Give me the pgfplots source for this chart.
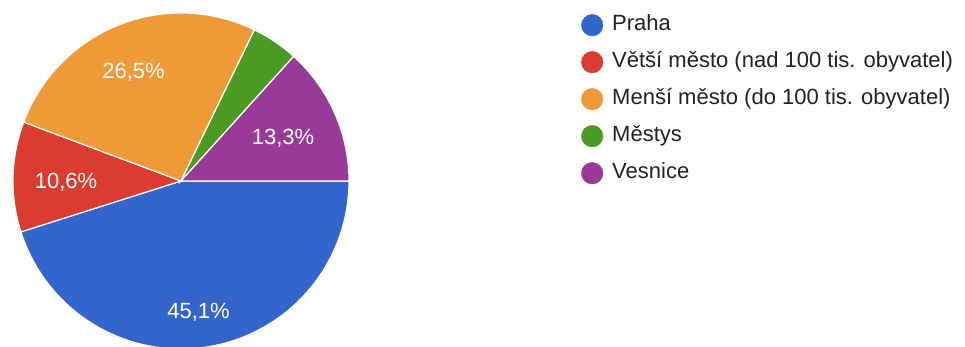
\documentclass[border=0pt]{standalone}
\usepackage{pgfplots}
\pgfplotsset{compat=1.18}
\usepackage{fontspec}
\setmainfont{Liberation Sans}
\definecolor{cPraha}{HTML}{3366CC}
\definecolor{cVetsi}{HTML}{DC3B2F}
\definecolor{cMensi}{HTML}{F09A37}
\definecolor{cMestys}{HTML}{4B9A22}
\definecolor{cVesnice}{HTML}{993A99}
\definecolor{txt}{HTML}{222222}
% shares in percent
\def\vPraha{45.1}
\def\vVetsi{10.6}
\def\vMensi{26.5}
\def\vMestys{4.5}
\def\vVesnice{13.3}
% cumulative angles (clockwise from 3 o'clock)
\pgfmathsetmacro\aA{0}
\pgfmathsetmacro\aB{\aA-3.6*\vPraha}
\pgfmathsetmacro\aC{\aB-3.6*\vVetsi}
\pgfmathsetmacro\aD{\aC-3.6*\vMensi}
\pgfmathsetmacro\aE{\aD-3.6*\vMestys}
\pgfmathsetmacro\aF{\aE-3.6*\vVesnice}
\def\cx{181}
\def\cy{-181}
\def\rr{168}
\begin{document}
\begin{tikzpicture}
\begin{axis}[
  x=1pt, y=1pt,
  xmin=0, xmax=965, ymin=-347, ymax=0,
  hide axis, clip=true,
  legend style={draw=none, fill=none, at={(axis cs:578,-12)}, anchor=north west,
    font=\fontsize{22}{26}\selectfont\color{txt},
    nodes={inner sep=0pt, text height=16pt, text depth=5pt},
    row sep=15pt, column sep=9pt},
  legend cell align=left,
]
\addplot[fill=cPraha, draw=white, line width=1.2pt, domain=\aB:\aA, samples=90, variable=\t, forget plot]
  ({\cx+\rr*cos(\t)}, {\cy+\rr*sin(\t)}) -- (axis cs:\cx,\cy) -- cycle;
\addplot[fill=cVetsi, draw=white, line width=1.2pt, domain=\aC:\aB, samples=40, variable=\t, forget plot]
  ({\cx+\rr*cos(\t)}, {\cy+\rr*sin(\t)}) -- (axis cs:\cx,\cy) -- cycle;
\addplot[fill=cMensi, draw=white, line width=1.2pt, domain=\aD:\aC, samples=60, variable=\t, forget plot]
  ({\cx+\rr*cos(\t)}, {\cy+\rr*sin(\t)}) -- (axis cs:\cx,\cy) -- cycle;
\addplot[fill=cMestys, draw=white, line width=1.2pt, domain=\aE:\aD, samples=20, variable=\t, forget plot]
  ({\cx+\rr*cos(\t)}, {\cy+\rr*sin(\t)}) -- (axis cs:\cx,\cy) -- cycle;
\addplot[fill=cVesnice, draw=white, line width=1.2pt, domain=\aF:\aE, samples=40, variable=\t, forget plot]
  ({\cx+\rr*cos(\t)}, {\cy+\rr*sin(\t)}) -- (axis cs:\cx,\cy) -- cycle;
\begin{scope}[every node/.style={text=white, font=\fontsize{22}{26}\selectfont, inner sep=0pt}]
\node at (axis cs:198.5,-312) {45,1\%};
\node at (axis cs:66,-182) {10,6\%};
\node at (axis cs:133.5,-72) {26,5\%};
\node at (axis cs:283,-138) {13,3\%};
\end{scope}
\addlegendimage{legend image code/.code={\fill[cPraha] (0pt,0pt) circle (10.8pt);}}
\addlegendentry{Praha}
\addlegendimage{legend image code/.code={\fill[cVetsi] (0pt,0pt) circle (10.8pt);}}
\addlegendentry{Větší město (nad 100 tis. obyvatel)}
\addlegendimage{legend image code/.code={\fill[cMensi] (0pt,0pt) circle (10.8pt);}}
\addlegendentry{Menší město (do 100 tis. obyvatel)}
\addlegendimage{legend image code/.code={\fill[cMestys] (0pt,0pt) circle (10.8pt);}}
\addlegendentry{Městys}
\addlegendimage{legend image code/.code={\fill[cVesnice] (0pt,0pt) circle (10.8pt);}}
\addlegendentry{Vesnice}
\end{axis}
\pgfresetboundingbox
\useasboundingbox (current axis.south west) rectangle (current axis.north east);
\end{tikzpicture}
\end{document}
